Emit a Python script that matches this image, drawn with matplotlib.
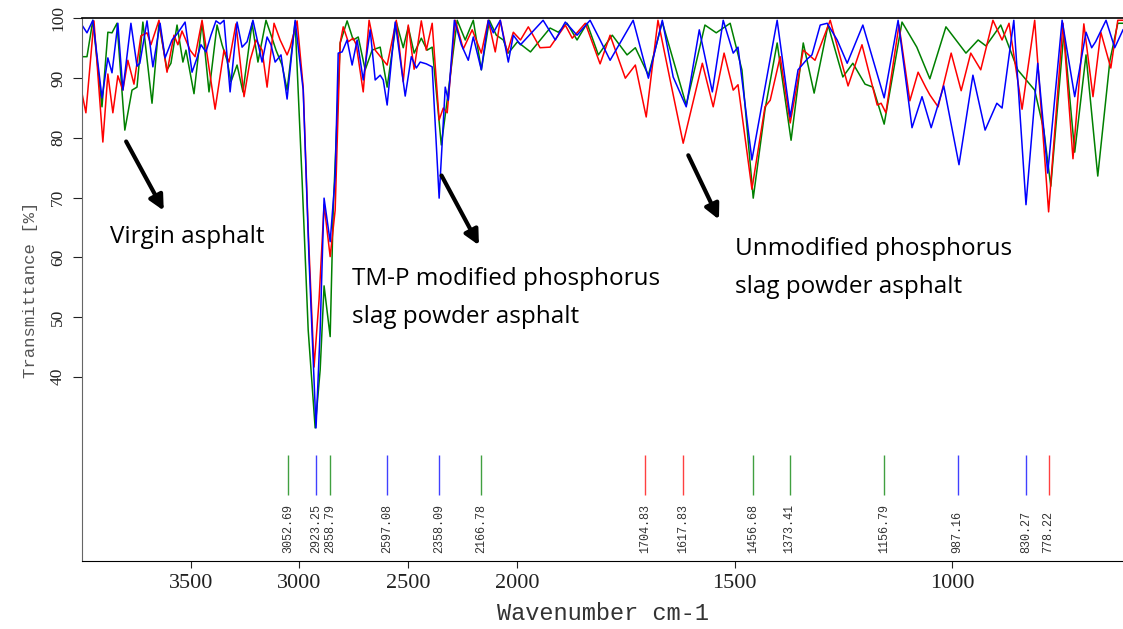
import numpy as np
import matplotlib
matplotlib.use('Agg')
import matplotlib.pyplot as plt

# spectra: wavenumber (cm-1) and transmittance (%)
red_wn = [4000, 3982, 3945, 3904, 3881, 3858, 3835, 3812, 3789, 3761,
          3729, 3701, 3683, 3646, 3609, 3577, 3559, 3540, 3503, 3480,
          3448, 3388, 3347, 3324, 3292, 3255, 3227, 3200, 3172, 3149,
          3117, 3089, 3057, 3043, 3011, 2983, 2960, 2933, 2910, 2887,
          2859, 2836, 2813, 2799, 2776, 2753, 2739, 2707, 2680, 2652,
          2597, 2555, 2523, 2500, 2473, 2440, 2417, 2390, 2358, 2339,
          2321, 2284, 2247, 2206, 2164, 2132, 2100, 2077, 2045, 2017,
          1992, 1974, 1947, 1924, 1889, 1873, 1843, 1809, 1786, 1751,
          1728, 1703, 1676, 1648, 1618, 1574, 1549, 1524, 1503, 1492,
          1460, 1430, 1418, 1395, 1372, 1342, 1315, 1280, 1239, 1207,
          1172, 1163, 1152, 1122, 1097, 1078, 1060, 1051, 1032, 1002,
          979, 957, 934, 906, 885, 869, 839, 810, 778, 745,
          722, 697, 676, 658, 635, 619, 607]
red_t = [87.5, 84.2, 99.6, 79.3, 90.7, 84.2, 90.4, 88.0, 93.0, 89.0,
         97.1, 97.6, 95.6, 99.7, 91.0, 97.2, 95.6, 97.9, 94.7, 93.6,
         99.7, 84.8, 94.7, 92.7, 99.1, 86.9, 93.0, 96.4, 94.7, 88.5,
         99.2, 96.4, 93.9, 95.2, 99.6, 88.5, 64.6, 41.6, 52.9, 68.8,
         60.1, 67.9, 95.9, 98.6, 96.1, 96.7, 95.6, 87.7, 99.7, 94.7,
         92.2, 99.7, 89.4, 98.9, 91.5, 99.6, 94.7, 99.2, 83.0, 85.0,
         84.2, 99.7, 94.9, 98.1, 94.2, 99.7, 94.4, 99.7, 94.2, 97.7,
         96.4, 98.6, 95.1, 95.2, 98.9, 96.7, 99.2, 92.4, 97.2, 90.0,
         92.2, 83.5, 99.7, 89.7, 79.1, 92.5, 85.2, 94.2, 88.0, 88.9,
         71.4, 85.2, 86.3, 93.6, 82.5, 94.7, 93.0, 99.7, 88.7, 95.6,
         85.5, 85.8, 84.2, 98.9, 86.2, 91.0, 88.4, 87.2, 85.2, 94.2,
         87.9, 94.2, 91.4, 99.7, 96.4, 99.2, 84.8, 99.7, 67.6, 99.2,
         76.5, 99.1, 86.9, 97.7, 91.7, 99.7, 99.7]

blue_wn = [4000, 3977, 3950, 3908, 3881, 3862, 3835, 3812, 3775, 3747,
           3734, 3701, 3674, 3641, 3618, 3586, 3559, 3526, 3494, 3471,
           3453, 3430, 3407, 3384, 3365, 3347, 3319, 3287, 3264, 3241,
           3214, 3172, 3149, 3131, 3112, 3085, 3057, 3020, 2983, 2956,
           2924, 2905, 2887, 2859, 2836, 2822, 2804, 2781, 2758, 2735,
           2707, 2675, 2652, 2629, 2615, 2597, 2560, 2514, 2486, 2463,
           2445, 2417, 2390, 2358, 2330, 2316, 2288, 2256, 2224, 2201,
           2164, 2132, 2109, 2077, 2040, 2017, 1992, 1940, 1912, 1889,
           1862, 1832, 1809, 1786, 1733, 1698, 1666, 1641, 1611, 1581,
           1551, 1526, 1503, 1492, 1460, 1402, 1372, 1354, 1333, 1322,
           1303, 1287, 1264, 1241, 1205, 1156, 1124, 1092, 1069, 1048,
           1019, 984, 952, 924, 897, 885, 858, 830, 803, 780,
           747, 718, 692, 679, 670, 646, 626, 607]
blue_t = [98.9, 97.6, 99.7, 86.7, 93.4, 90.9, 99.2, 88.0, 99.2, 92.0,
          92.5, 99.6, 91.9, 99.2, 93.4, 96.4, 97.6, 99.4, 91.0, 93.4,
          95.6, 94.4, 97.2, 99.6, 99.1, 99.7, 87.7, 99.4, 95.2, 96.1,
          99.7, 92.7, 96.9, 95.6, 92.7, 93.9, 86.5, 99.7, 88.0, 59.5,
          31.4, 47.8, 69.9, 62.6, 73.5, 94.2, 94.4, 96.4, 92.2, 96.4,
          89.7, 98.1, 89.7, 90.5, 89.7, 85.5, 99.4, 87.0, 93.6, 91.7,
          92.7, 92.4, 91.9, 69.9, 88.5, 86.3, 99.7, 95.6, 93.0, 96.9,
          91.4, 99.7, 97.6, 99.7, 92.7, 97.2, 95.6, 99.7, 96.4, 99.4,
          97.2, 99.7, 96.4, 93.0, 99.7, 90.0, 99.7, 90.2, 85.2, 98.1,
          87.7, 99.7, 94.2, 95.2, 76.3, 99.7, 83.5, 91.4, 93.2, 93.9,
          98.9, 99.2, 96.4, 92.5, 98.9, 86.7, 99.7, 81.7, 86.9, 81.7,
          88.7, 75.5, 90.5, 81.3, 85.8, 85.0, 99.7, 68.8, 92.5, 74.1,
          99.7, 86.9, 97.7, 95.1, 96.1, 99.7, 95.1, 98.1]

green_wn = [4000, 3977, 3950, 3908, 3881, 3862, 3839, 3803, 3770, 3747,
            3720, 3678, 3646, 3609, 3591, 3563, 3536, 3522, 3485, 3448,
            3416, 3379, 3356, 3333, 3315, 3287, 3260, 3218, 3191, 3154,
            3126, 3108, 3080, 3057, 3020, 2988, 2960, 2928, 2905, 2887,
            2859, 2845, 2813, 2781, 2753, 2730, 2698, 2666, 2629, 2597,
            2555, 2523, 2500, 2473, 2440, 2413, 2390, 2348, 2321, 2275,
            2238, 2201, 2164, 2127, 2095, 2063, 2040, 1999, 1969, 1924,
            1905, 1885, 1862, 1839, 1813, 1781, 1747, 1728, 1698, 1666,
            1611, 1568, 1542, 1510, 1483, 1457, 1430, 1402, 1370, 1342,
            1317, 1285, 1251, 1228, 1200, 1182, 1156, 1115, 1081, 1051,
            1014, 968, 940, 922, 888, 849, 810, 789, 773, 743,
            718, 692, 665, 637, 619, 607]
green_t = [93.6, 93.6, 99.7, 85.2, 97.7, 97.6, 99.2, 81.3, 88.0, 88.5,
           99.4, 85.8, 99.2, 91.4, 92.5, 98.9, 92.7, 94.7, 87.4, 99.4,
           87.7, 98.9, 95.6, 93.0, 89.4, 92.2, 87.7, 99.2, 92.7, 99.7,
           96.7, 94.7, 92.2, 88.0, 99.4, 72.9, 47.8, 31.4, 41.1, 55.2,
           46.7, 67.9, 95.9, 99.6, 96.4, 96.9, 91.4, 94.7, 95.2, 88.5,
           99.4, 95.1, 98.6, 94.2, 96.7, 94.7, 95.2, 78.8, 86.3, 99.7,
           96.4, 99.7, 91.4, 99.7, 97.2, 96.4, 94.2, 96.1, 94.4, 98.4,
           97.7, 99.2, 96.4, 99.2, 93.9, 97.2, 93.9, 95.1, 90.5, 99.4,
           85.5, 98.9, 97.6, 99.2, 91.4, 69.9, 84.7, 95.9, 79.6, 95.9,
           87.5, 98.9, 90.2, 92.5, 89.0, 88.5, 82.3, 99.4, 95.2, 89.9,
           98.6, 94.2, 96.4, 95.4, 98.9, 91.4, 88.0, 81.3, 71.9, 97.6,
           77.6, 93.9, 73.6, 93.0, 99.2, 99.2]

# marked peaks
peak_wn = [3052.69, 2923.25, 2858.79, 2597.08, 2358.09, 2166.78, 1704.83,
           1617.83, 1456.68, 1373.41, 1156.79, 987.16, 830.27, 778.22]
peak_colors = ['green', 'blue', 'green', 'blue', 'blue', 'green', 'red',
               'red', 'green', 'green', 'green', 'blue', 'blue', 'red']

x_ticks = [3500, 3000, 2500, 2000, 1500, 1000]
y_ticks = [40, 50, 60, 70, 80, 90, 100]


# x axis is compressed by 2 above 2000 cm-1
def fwd(x):
    x = np.asarray(x, dtype=float)
    return np.where(x > 2000, 2000 + (x - 2000) / 2, x)


def inv(x):
    x = np.asarray(x, dtype=float)
    return np.where(x > 2000, 2000 + (x - 2000) * 2, x)


fig = plt.figure(figsize=(11.23, 6.29), dpi=100)
ax = fig.add_axes([0.0730, 0.1081, 0.9270, 0.8625])
ax.set_xscale('function', functions=(fwd, inv))

line_kw = dict(lw=1.1, solid_joinstyle='round')
ax.plot(green_wn, green_t, color='#008000', **line_kw)
ax.plot(red_wn, red_t, color='#ff0000', **line_kw)
ax.plot(blue_wn, blue_t, color='#0000ff', **line_kw)

ax.vlines(peak_wn, 20.2, 26.9, colors=peak_colors, lw=1, alpha=0.75)
for w in peak_wn:
    ax.text(w, 10.5, f'{w:.2f}', rotation=90, ha='center', va='bottom',
            fontsize=8.5, family='Liberation Mono', color='#333333')

ax.set_xlim(4000, 607)
ax.set_ylim(9.1, 100)
ax.set_xticks(x_ticks)
ax.set_xticklabels([str(t) for t in x_ticks], family='Liberation Serif',
                   fontsize=16)
ax.set_yticks(y_ticks)
ax.set_yticklabels([str(t) for t in y_ticks], family='Liberation Serif',
                   fontsize=12.5, rotation=90, va='center')
ax.tick_params(axis='x', direction='out', length=5, pad=4, colors='#222222')
ax.tick_params(axis='y', direction='out', length=6.5, pad=5, colors='#222222')

ax.spines['right'].set_visible(False)
ax.spines['left'].set_color('#666666')
ax.spines['top'].set_linewidth(1.2)

ax.set_xlabel('Wavenumber cm-1', family='Liberation Mono', fontsize=17,
              color='#333333', labelpad=7)
ax.set_ylabel('Transmittance [%]', family='Liberation Mono', fontsize=12.4,
              color='#555555', labelpad=9)

# labels and arrows
txt = dict(family='Open Sans', fontsize=17.5, color='black')
ax.text(3872, 63.4, 'Virgin asphalt', ha='left', va='center', **txt)
ax.text(2758, 53.2, 'TM-P modified phosphorus\nslag powder asphalt',
        ha='left', va='center', linespacing=1.8, **txt)
ax.text(1499, 58.2, 'Unmodified phosphorus\nslag powder asphalt',
        ha='left', va='center', linespacing=1.8, **txt)

arrow = dict(arrowstyle='-|>', lw=3, color='black', mutation_scale=22)
ax.annotate('', xy=(3618, 67.4), xytext=(3803, 79.8), arrowprops=arrow)
ax.annotate('', xy=(2169, 61.6), xytext=(2353, 74.1), arrowprops=arrow)
ax.annotate('', xy=(1533, 65.9), xytext=(1609, 77.5), arrowprops=arrow)

fig.savefig('out.png', dpi=100)
